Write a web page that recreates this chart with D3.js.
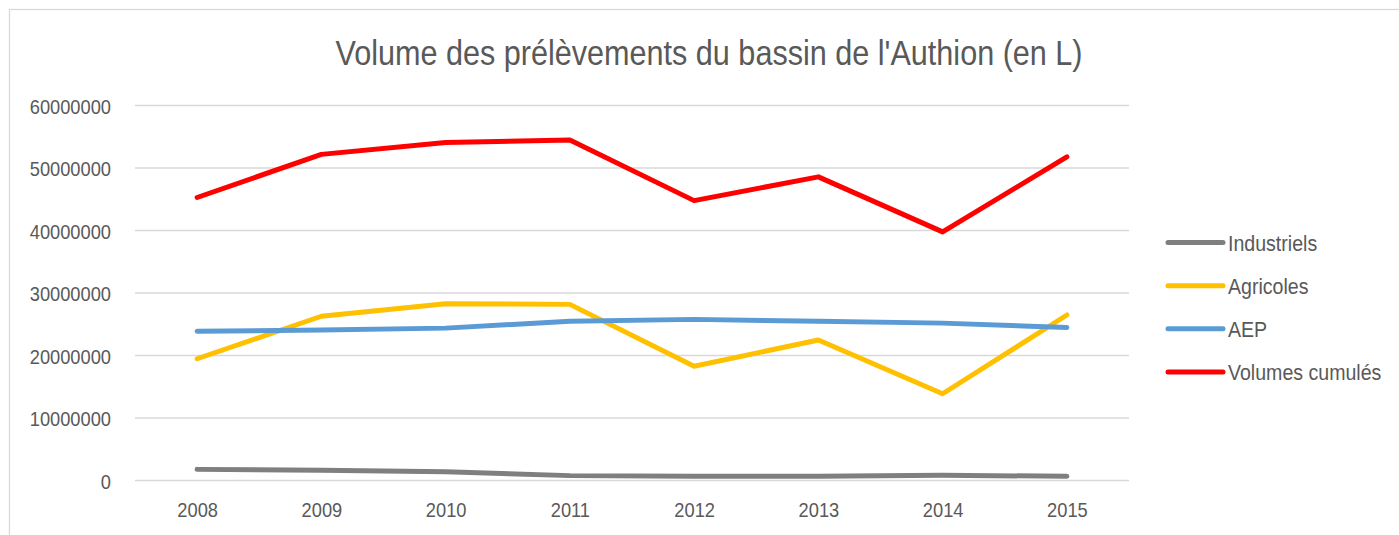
<!DOCTYPE html>
<html>
<head>
<meta charset="utf-8">
<script src="https://cdn.jsdelivr.net/npm/d3@7"></script>
<style>
  html, body { margin: 0; padding: 0; background: #fff; }
  svg { display: block; }
  text { font-family: "Liberation Sans", Arial, sans-serif; fill: #595959; }
</style>
</head>
<body>
<svg id="chart" width="1399" height="535"></svg>
<script>
const years = ["2008", "2009", "2010", "2011", "2012", "2013", "2014", "2015"];
const industriels = [1700000, 1550000, 1330000, 700000, 600000, 620000, 750000, 600000];
const agricoles = [19400000, 26200000, 28200000, 28100000, 18200000, 22400000, 13800000, 26400000];
const aep = [23800000, 24000000, 24300000, 25400000, 25700000, 25400000, 25100000, 24400000];
const cumules = [45200000, 52100000, 54000000, 54400000, 44700000, 48500000, 39700000, 51700000];
const seriesNames = ["Industriels", "Agricoles", "AEP", "Volumes cumulés"];
const yTicks = [0, 10000000, 20000000, 30000000, 40000000, 50000000, 60000000];
const chartTitle = "Volume des prélèvements du bassin de l'Authion (en L)";

const series = [
  { name: seriesNames[0], values: industriels, color: "#7F7F7F" },
  { name: seriesNames[1], values: agricoles, color: "#FFC000" },
  { name: seriesNames[2], values: aep, color: "#5B9BD5" },
  { name: seriesNames[3], values: cumules, color: "#FF0000" }
];

const SX = 0.87; // horizontal compression of text glyphs
const svg = d3.select("#chart");
const mLeft = 135, mRight = 1129, mTop = 105, mBottom = 480;

// chart frame
svg.append("rect").attr("x", 9.5).attr("y", 9.5).attr("width", 1500).attr("height", 600)
  .attr("fill", "none").attr("stroke", "#d9d9d9").attr("stroke-width", 1.3);

const x = d3.scalePoint().domain(years).range([mLeft, mRight]).padding(0.5);
const y = d3.scaleLinear().domain([0, 60000000]).range([mBottom, mTop]);

// title
svg.append("text")
  .attr("transform", `translate(709,65) scale(0.85,1)`)
  .attr("text-anchor", "middle")
  .style("font-size", "36px")
  .text(chartTitle);

// y axis with gridlines
const yAxis = svg.append("g").attr("transform", `translate(${mLeft},0)`)
  .call(d3.axisLeft(y).tickValues(yTicks).tickFormat(d3.format("d")).tickSize(-(mRight - mLeft)).tickPadding(0));
yAxis.select(".domain").remove();
yAxis.selectAll(".tick line").attr("stroke", "#d9d9d9").attr("stroke-width", 1.3);
yAxis.selectAll(".tick text")
  .attr("x", 0).attr("dy", null).attr("y", 8)
  .attr("transform", `translate(-24,0) scale(${SX},1)`)
  .attr("text-anchor", "end")
  .style("font-size", "21px")
  .attr("fill", "#595959");

// x axis
const xAxis = svg.append("g").attr("transform", `translate(0,${mBottom})`)
  .call(d3.axisBottom(x).tickSize(0).tickPadding(0));
xAxis.select(".domain").remove();
xAxis.selectAll(".tick text")
  .attr("y", 0).attr("dy", null)
  .attr("transform", `translate(0,37) scale(${SX},1)`)
  .attr("text-anchor", "middle")
  .style("font-size", "21px")
  .attr("fill", "#595959");

// lines
const line = d3.line().x((d, i) => x(years[i])).y(d => y(d));
svg.append("g").selectAll("path").data(series).join("path")
  .attr("d", d => line(d.values))
  .attr("fill", "none")
  .attr("stroke", d => d.color)
  .attr("stroke-width", 5)
  .attr("stroke-linecap", "round")
  .attr("stroke-linejoin", "round");

// legend
const legend = svg.append("g");
const ly = d3.scalePoint().domain(seriesNames).range([242.5, 372]);
const items = legend.selectAll("g").data(series).join("g")
  .attr("transform", d => `translate(0,${ly(d.name)})`);
items.append("line").attr("x1", 1168).attr("x2", 1223).attr("y1", 0).attr("y2", 0)
  .attr("stroke", d => d.color).attr("stroke-width", 5).attr("stroke-linecap", "round");
items.append("text")
  .attr("transform", `translate(1228,8) scale(0.89,1)`)
  .style("font-size", "22px")
  .text(d => d.name);
</script>
</body>
</html>
